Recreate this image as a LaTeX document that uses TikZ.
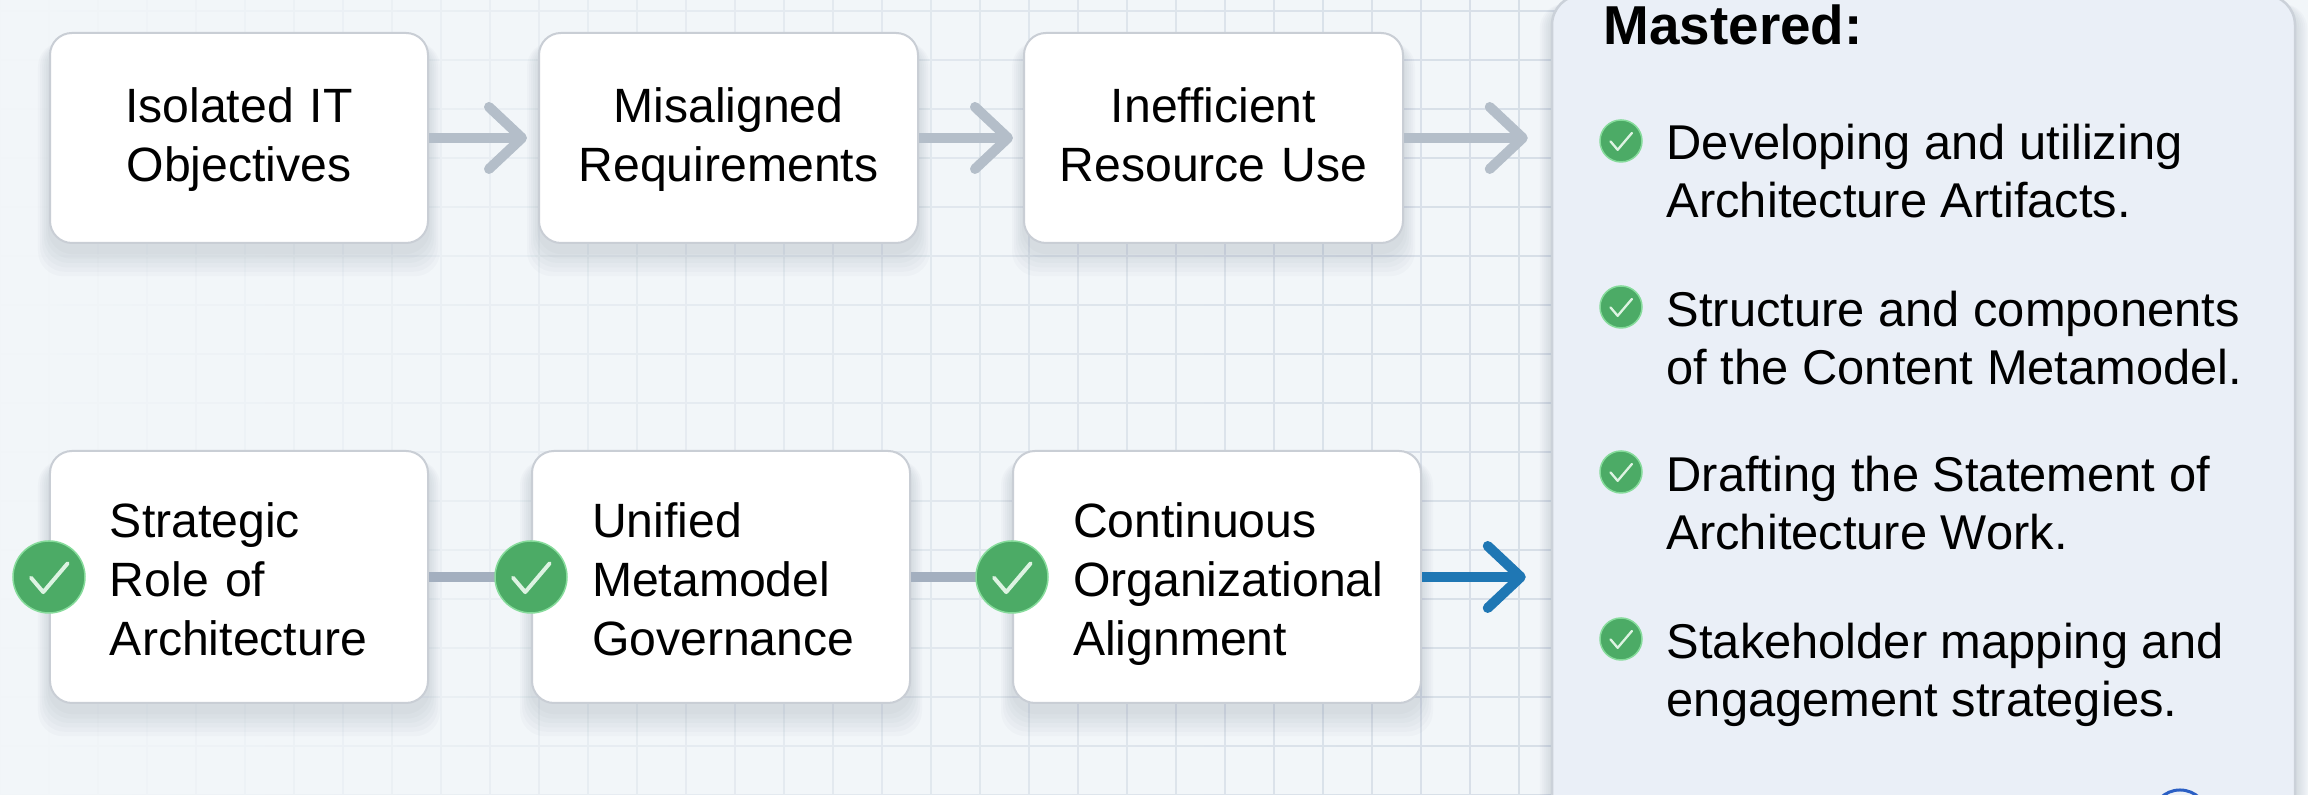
\documentclass[tikz,border=0pt]{standalone}
\usepackage{fontspec}
\setmainfont{Liberation Sans}
\usetikzlibrary{arrows.meta,fadings,backgrounds}

\definecolor{pagetone}{HTML}{F2F6F9}
\definecolor{gridtone}{HTML}{D6DEE7}
\definecolor{panelfill}{HTML}{EAEFF7}
\definecolor{paneledge}{HTML}{CBD1D9}
\definecolor{boxedge}{HTML}{C9CED5}
\definecolor{shadowtone}{HTML}{5F6F85}
\definecolor{flowgrey}{HTML}{B4BEC9}
\definecolor{linkgrey}{HTML}{A3AFBF}
\definecolor{flowblue}{HTML}{1F77B4}
\definecolor{checkgreen}{HTML}{4CAB66}
\definecolor{checkedge}{HTML}{86DB9B}
\definecolor{checktick}{HTML}{DDF3E2}
\definecolor{badgeblue}{HTML}{2B5FC4}

\tikzfading[name=gridfade, left color=transparent!100, right color=transparent!0]

\newcommand{\topstrut}{\rule{0pt}{14.2pt}}
\newcommand{\tallstrut}{\rule{0pt}{11.1pt}}
\newcommand{\botstrut}{\rule[-3pt]{0pt}{3pt}}

\tikzset{
    cardbox/.style={rectangle, draw=boxedge, line width=.02cm, fill=white, rounded corners=.22cm,
        inner sep=0, font=\fontsize{13.7pt}{16.7pt}\selectfont, execute at end node=\botstrut},
    plainbox/.style={cardbox, align=center, text width=#1, minimum height=2.10cm,
        execute at begin node=\tallstrut},
    donebox/.style={cardbox, align=left, text width=#1, inner xsep=.6cm, minimum height=2.52cm,
        execute at begin node=\topstrut},
    flowarrow/.style={line width=.10cm, -{Straight Barb[length=.33cm, width=.62cm, round, line width=.10cm]}},
    checkdot/.style={circle, fill=checkgreen, draw=checkedge, line width=.015cm, inner sep=0,
        minimum size=#1 cm, path picture={
            \draw[checktick, line width=#1*.055cm, line cap=round, line join=round]
                (path picture bounding box.center) ++(-.25*#1,-.01*#1) -- ++(.17*#1,-.20*#1) -- ++(.34*#1,.40*#1);}},
    itemtext/.style={anchor=north west, inner sep=0, align=left,
        font=\fontsize{13.9pt}{16.6pt}\selectfont, execute at begin node=\strut},
}

\newcommand{\softshadow}[1]{
    \begin{scope}[on background layer]
    \foreach \s in {.02,.06,.10,.14,.18,.22}
        \fill[shadowtone, opacity=.032, rounded corners=.25cm]
            ([xshift=-.5*\s cm,yshift=-.08cm-1.1*\s cm]#1.south west) rectangle ([xshift=.5*\s cm,yshift=-.1cm]#1.north east);
    \end{scope}
}

\begin{document}
\begin{tikzpicture}
    \useasboundingbox (0,0) rectangle (23.08,7.95);

    % Background
    \begin{scope}[on background layer]
        \fill[pagetone] (0,0) rectangle (23.08,7.95);
        \draw[gridtone, line width=.012cm, step=.49, path fading=gridfade] (0,0) grid (16,7.95);
    \end{scope}

    % Upper row
    \node (isolated) at (2.39,6.57) [plainbox=3.78cm] {Isolated IT\\Objectives};
    \node (misaligned) at (7.285,6.57) [plainbox=3.79cm] {Misaligned\\Requirements};
    \node (inefficient) at (12.135,6.57) [plainbox=3.79cm] {Inefficient\\Resource Use};

    % Lower row
    \node (strategic) at (2.39,2.18) [donebox=2.58cm] {Strategic\\Role of\\Architecture};
    \node (unified) at (7.21,2.18) [donebox=2.58cm] {Unified\\Metamodel\\Governance};
    \node (continuous) at (12.17,2.18) [donebox=2.88cm] {Continuous\\Organizational\\Alignment};

    % Panel
    \node (panel) at (19.235,3.60) [rectangle, draw=paneledge, line width=.025cm, fill=panelfill,
        rounded corners=.30cm, minimum width=7.43cm, minimum height=8.80cm] {};
    \node (mastered) at (16.03,7.50) [anchor=base west, inner sep=0, font=\fontsize{15.6pt}{18pt}\selectfont\bfseries] {Mastered:};
    \node (badge) at (21.80,-0.23) [circle, draw=badgeblue, line width=.03cm, minimum size=.56cm] {};

    % Shadows
    \softshadow{isolated}
    \softshadow{misaligned}
    \softshadow{inefficient}
    \softshadow{strategic}
    \softshadow{unified}
    \softshadow{continuous}
    \softshadow{panel}

    % Edges
    \draw[flowarrow, flowgrey, shorten >=.11cm] (isolated) -- (misaligned);
    \draw[flowarrow, flowgrey, shorten >=.10cm] (misaligned) -- (inefficient);
    \draw[flowarrow, flowgrey, shorten >=.23cm] (inefficient.east) -- (inefficient.east -| panel.west);
    \draw[linkgrey, line width=.10cm] (strategic) -- (unified);
    \draw[linkgrey, line width=.10cm] (unified) -- (continuous);
    \draw[flowarrow, flowblue, shorten >=.25cm] (continuous.east) -- (continuous.east -| panel.west);

    % Check marks on the lower row
    \node (strategicdot) at (strategic.west) [checkdot=.72] {};
    \node (unifieddot) at (unified.west) [checkdot=.72] {};
    \node (continuousdot) at (continuous.west) [checkdot=.72] {};

    % Panel list
    \node (artifactsdot) at (16.21,6.54) [checkdot=.42] {};
    \node (metamodeldot) at (16.21,4.88) [checkdot=.42] {};
    \node (statementdot) at (16.21,3.23) [checkdot=.42] {};
    \node (mappingdot) at (16.21,1.56) [checkdot=.42] {};
    \node (artifacts) at (16.66,6.72) [itemtext] {Developing and utilizing\\Architecture Artifacts.};
    \node (metamodel) at (16.66,5.05) [itemtext] {Structure and components\\of the Content Metamodel.};
    \node (statement) at (16.66,3.40) [itemtext] {Drafting the Statement of\\Architecture Work.};
    \node (mapping) at (16.66,1.73) [itemtext] {Stakeholder mapping and\\engagement strategies.};
\end{tikzpicture}
\end{document}
